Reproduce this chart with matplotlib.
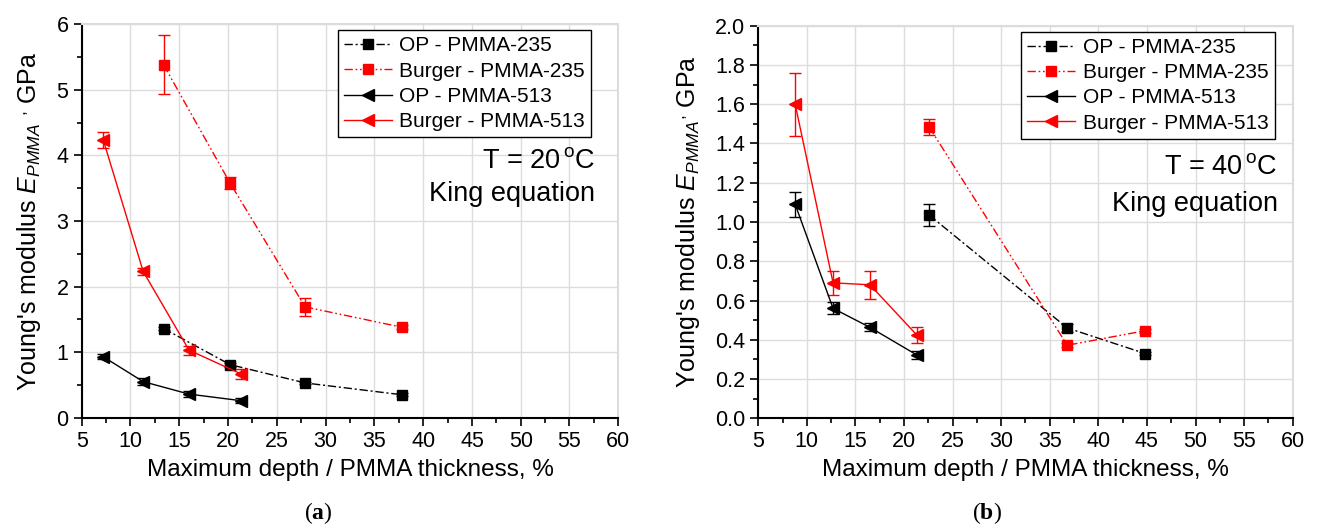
import matplotlib
matplotlib.use('Agg')
import matplotlib.pyplot as plt
from matplotlib.ticker import MultipleLocator, FormatStrFormatter

plt.rcParams['font.family'] = ['Liberation Sans', 'DejaVu Sans']
plt.rcParams['mathtext.fontset'] = 'custom'
plt.rcParams['mathtext.rm'] = 'Liberation Sans'
plt.rcParams['mathtext.it'] = 'Liberation Sans:italic'
plt.rcParams['mathtext.bf'] = 'Liberation Serif:bold'

# ---------------------------------------------------------------- dados
series_names = ['OP - PMMA-235', 'Burger - PMMA-235', 'OP - PMMA-513', 'Burger - PMMA-513']

# (a) T = 20 C
a_x_235 = [13.4, 20.2, 27.9, 37.8]
a_op_235 = [1.36, 0.81, 0.53, 0.35]
a_op_235_err = [0.03, 0.03, 0.02, 0.02]
a_bu_235 = [5.38, 3.58, 1.69, 1.38]
a_bu_235_err = [0.45, 0.09, 0.14, 0.03]
a_x_513 = [7.2, 11.3, 16.0, 21.3]
a_op_513 = [0.93, 0.55, 0.36, 0.26]
a_op_513_err = [0.04, 0.05, 0.04, 0.04]
a_bu_513 = [4.24, 2.23, 1.03, 0.67]
a_bu_513_err = [0.12, 0.05, 0.07, 0.08]

# (b) T = 40 C
b_x_235 = [22.6, 36.8, 44.8]
b_op_235 = [1.035, 0.46, 0.33]
b_op_235_err = [0.055, 0.02, 0.01]
b_bu_235 = [1.483, 0.372, 0.446]
b_bu_235_err = [0.04, 0.01, 0.01]
b_x_513 = [8.8, 12.7, 16.5, 21.3]
b_op_513 = [1.09, 0.56, 0.463, 0.323]
b_op_513_err = [0.065, 0.03, 0.02, 0.02]
b_bu_513 = [1.60, 0.69, 0.68, 0.425]
b_bu_513_err = [0.16, 0.06, 0.07, 0.04]

GRID = '#dcdcdc'
DASHDOTDOT = (0, (6, 2, 1.2, 2, 1.2, 2))


###############################################################################################
def desenha(ax, x235, op235, op235e, bu235, bu235e, x513, op513, op513e, bu513, bu513e, anchor):
    estilos = [
        (x235, op235, op235e, 'black', (0, (6, 2, 1.5, 2)), 's', 6.5),
        (x235, bu235, bu235e, 'red', DASHDOTDOT, 's', 6.5),
        (x513, op513, op513e, 'black', '-', '<', 8.5),
        (x513, bu513, bu513e, 'red', '-', '<', 8.5),
    ]
    for (x, y, e, cor, ls, mk, ms), nome in zip(estilos, series_names):
        ax.errorbar(x, y, yerr=e, fmt='none', ecolor=cor, elinewidth=1.0,
                    capsize=4, capthick=1.0, zorder=3)
        ax.plot(x, y, color=cor, linestyle=ls, linewidth=1.0, marker=mk,
                markersize=ms, label=nome, zorder=4)

    ax.set_xlim(5, 60)
    ax.xaxis.set_major_locator(MultipleLocator(5))
    ax.xaxis.set_minor_locator(MultipleLocator(2.5))
    ax.grid(True, which='major', color=GRID, linewidth=1.0, zorder=0)
    ax.set_axisbelow(True)
    for lado in ['top', 'right']:
        ax.spines[lado].set_color(GRID)
        ax.spines[lado].set_linewidth(1.5)
    for lado in ['left', 'bottom']:
        ax.spines[lado].set_linewidth(1.5)
    ax.tick_params(which='major', direction='out', length=6, width=1.2, labelsize=15.5)
    ax.tick_params(which='minor', direction='out', length=3.5, width=1.2)
    ax.set_xlabel('Maximum depth / PMMA thickness, %', fontsize=17.5, labelpad=5)

    leg = ax.legend(loc='upper right', bbox_to_anchor=anchor, fontsize=15,
                    handlelength=2.3, handletextpad=0.35, borderpad=0.3,
                    labelspacing=0.3, numpoints=1, fancybox=False,
                    edgecolor='black', framealpha=1, borderaxespad=0.0)
    leg.get_frame().set_linewidth(1.0)


fig = plt.figure(figsize=(13.18, 5.30), dpi=100)
ax1 = fig.add_axes([0.062, 0.2119, 0.4071, 0.7423])
ax2 = fig.add_axes([0.5753, 0.2108, 0.4055, 0.7407])

desenha(ax1, a_x_235, a_op_235, a_op_235_err, a_bu_235, a_bu_235_err,
        a_x_513, a_op_513, a_op_513_err, a_bu_513, a_bu_513_err, (0.95, 0.985))
ax1.set_ylim(0, 6)
ax1.yaxis.set_major_locator(MultipleLocator(1))
ax1.yaxis.set_minor_locator(MultipleLocator(0.5))
ax1.set_ylabel(r"Young's modulus $E_{PMMA}\ {}^{,}$ GPa", fontsize=18, labelpad=10)
ax1.text(0.958, 0.634, r'T = 20$\,^{\mathrm{o}}$C', transform=ax1.transAxes,
         ha='right', va='baseline', fontsize=19.5)
ax1.text(0.956, 0.552, 'King equation', transform=ax1.transAxes,
         ha='right', va='baseline', fontsize=19.5)

desenha(ax2, b_x_235, b_op_235, b_op_235_err, b_bu_235, b_bu_235_err,
        b_x_513, b_op_513, b_op_513_err, b_bu_513, b_bu_513_err, (0.966, 0.985))
ax2.set_ylim(0, 2.0)
ax2.yaxis.set_major_locator(MultipleLocator(0.2))
ax2.yaxis.set_minor_locator(MultipleLocator(0.1))
ax2.yaxis.set_major_formatter(FormatStrFormatter('%.1f'))
ax2.set_ylabel(r"Young's modulus $E_{PMMA}{}^{,}$ GPa", fontsize=18, labelpad=9)
ax2.text(0.972, 0.623, r'T = 40$\,^{\mathrm{o}}$C', transform=ax2.transAxes,
         ha='right', va='baseline', fontsize=19.5)
ax2.text(0.972, 0.528, 'King equation', transform=ax2.transAxes,
         ha='right', va='baseline', fontsize=19.5)

fig.text(318 / 1318, 1 - 513 / 530, r'($\mathbf{a}$)', family='Liberation Serif',
         fontsize=17, ha='center', va='center')
fig.text(987 / 1318, 1 - 513 / 530, r'($\mathbf{b}$)', family='Liberation Serif',
         fontsize=17, ha='center', va='center')

fig.savefig('out.png', dpi=100)
